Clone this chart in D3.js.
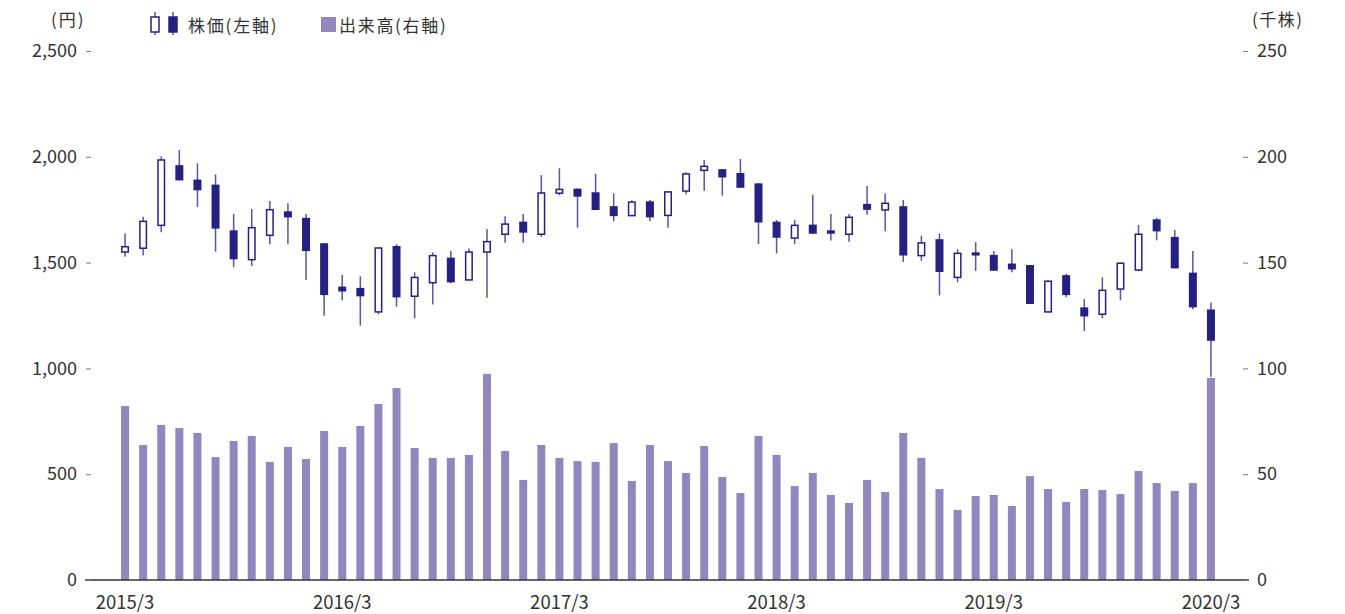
<!DOCTYPE html>
<html>
<head>
<meta charset="utf-8">
<script src="https://cdn.jsdelivr.net/npm/d3@7"></script>
<style>
  html, body { margin: 0; padding: 0; background: #fff; }
  svg { display: block; }
  text { font-family: "Noto Sans CJK JP", "Noto Sans", sans-serif; fill: #333; }
</style>
</head>
<body>
<svg id="chart" width="1345" height="614"></svg>
<script>
// Monthly periods
const months = [
  "2015/3","2015/4","2015/5","2015/6","2015/7","2015/8","2015/9","2015/10","2015/11","2015/12","2016/1","2016/2",
  "2016/3","2016/4","2016/5","2016/6","2016/7","2016/8","2016/9","2016/10","2016/11","2016/12","2017/1","2017/2",
  "2017/3","2017/4","2017/5","2017/6","2017/7","2017/8","2017/9","2017/10","2017/11","2017/12","2018/1","2018/2",
  "2018/3","2018/4","2018/5","2018/6","2018/7","2018/8","2018/9","2018/10","2018/11","2018/12","2019/1","2019/2",
  "2019/3","2019/4","2019/5","2019/6","2019/7","2019/8","2019/9","2019/10","2019/11","2019/12","2020/1","2020/2",
  "2020/3"
];

// Share price (yen)
const openPrice = [
  1550,1568,1676,1957,1889,1865,1649,1514,1629,1739,1708,1588,
  1383,1377,1267,1575,1341,1405,1520,1418,1550,1634,1690,1634,
  1828,1846,1829,1763,1722,1786,1723,1838,1936,1938,1920,1871,
  1690,1616,1676,1649,1634,1774,1749,1763,1533,1607,1430,1545,
  1533,1492,1485,1267,1437,1285,1256,1375,1465,1701,1618,1449,
  1275
];
const highPrice = [
  1638,1717,2001,2032,1969,1917,1730,1753,1791,1780,1730,1591,
  1441,1435,1571,1587,1454,1548,1555,1567,1659,1719,1730,1913,
  1946,1850,1919,1827,1795,1796,1837,1927,1985,1941,1990,1875,
  1701,1701,1821,1730,1728,1862,1827,1796,1627,1638,1563,1597,
  1555,1563,1487,1415,1446,1327,1430,1501,1678,1711,1654,1555,
  1312
];
const lowPrice = [
  1528,1534,1643,1889,1763,1552,1478,1484,1587,1587,1418,1249,
  1322,1202,1256,1292,1237,1302,1402,1418,1334,1594,1594,1622,
  1818,1665,1748,1695,1720,1695,1665,1823,1840,1816,1855,1588,
  1544,1588,1636,1605,1599,1726,1648,1503,1509,1345,1407,1460,
  1463,1454,1306,1265,1336,1177,1237,1322,1460,1605,1474,1279,
  961
];
const closePrice = [
  1575,1695,1985,1892,1845,1664,1519,1665,1750,1717,1558,1350,
  1367,1344,1569,1339,1430,1533,1410,1550,1599,1682,1645,1829,
  1846,1815,1752,1723,1786,1717,1834,1919,1955,1906,1857,1693,
  1621,1676,1640,1640,1714,1753,1780,1537,1593,1459,1544,1537,
  1465,1471,1308,1412,1350,1249,1369,1497,1634,1651,1476,1292,
  1134
];

// Trading volume (thousand shares)
const volume = [
  82.2,63.8,73.3,71.8,69.5,58.1,65.7,68.1,55.8,62.9,57.2,70.4,
  62.9,72.8,83.2,90.7,62.4,57.7,57.7,59.1,97.4,61.0,47.3,63.8,
  57.7,56.2,55.8,64.7,46.8,63.8,56.2,50.6,63.3,48.7,41.1,68.1,
  59.1,44.4,50.6,40.2,36.4,47.3,41.6,69.5,57.7,43.0,33.1,39.7,
  40.2,35.0,49.1,43.0,36.9,43.0,42.5,40.6,51.5,45.8,42.1,45.8,
  95.5
];

// Axis ticks
const xTickLabels = ["2015/3","2016/3","2017/3","2018/3","2019/3","2020/3"];
const priceTicks = [0, 500, 1000, 1500, 2000, 2500];
const volumeTicks = [0, 50, 100, 150, 200, 250];

const candles = months.map((m, i) => ({
  month: m, open: openPrice[i], high: highPrice[i], low: lowPrice[i], close: closePrice[i], volume: volume[i]
}));

const NAVY = "#272083";
const WICK = "#5954a6";
const VOL = "#9286bf";
const TICK = "#7a7a7a";

const svg = d3.select("#chart");

const x = d3.scaleBand()
  .domain(months)
  .range([116, 1220])
  .paddingInner(0.558)
  .paddingOuter(0.279);
const cx = m => x(m) + x.bandwidth() / 2;

const yPrice = d3.scaleLinear().domain([0, 2500]).range([580, 51]);
const yVol = d3.scaleLinear().domain([0, 250]).range([580, 51]);

// Volume bars (right axis)
svg.append("g")
  .selectAll("rect")
  .data(candles)
  .join("rect")
  .attr("x", d => x(d.month))
  .attr("width", x.bandwidth())
  .attr("y", d => yVol(d.volume))
  .attr("height", d => yVol(0) - yVol(d.volume))
  .attr("fill", VOL);

// Candlesticks (left axis)
const cg = svg.append("g")
  .selectAll("g")
  .data(candles)
  .join("g");

cg.append("line")
  .attr("x1", d => cx(d.month))
  .attr("x2", d => cx(d.month))
  .attr("y1", d => yPrice(d.high))
  .attr("y2", d => yPrice(d.low))
  .attr("stroke", WICK)
  .attr("stroke-width", 1.5);

cg.append("rect")
  .attr("x", d => x(d.month) + 0.75)
  .attr("width", x.bandwidth() - 1.5)
  .attr("y", d => yPrice(Math.max(d.open, d.close)))
  .attr("height", d => Math.max(1.5, yPrice(Math.min(d.open, d.close)) - yPrice(Math.max(d.open, d.close))))
  .attr("fill", d => d.close >= d.open ? "#fff" : NAVY)
  .attr("stroke", NAVY)
  .attr("stroke-width", 1.5);

// Baseline
svg.append("line")
  .attr("x1", 85).attr("x2", 1249)
  .attr("y1", yPrice(0)).attr("y2", yPrice(0))
  .attr("stroke", "#333")
  .attr("stroke-width", 1.5);

// Left axis
const leftAxis = svg.append("g")
  .attr("transform", "translate(91,0)")
  .call(d3.axisLeft(yPrice).tickValues(priceTicks).tickFormat(d3.format(",")).tickSize(5).tickPadding(9));
leftAxis.select(".domain").remove();
leftAxis.selectAll(".tick line").attr("stroke", TICK);
leftAxis.selectAll(".tick text").attr("font-size", 18).attr("fill", "#333");

// Right axis
const rightAxis = svg.append("g")
  .attr("transform", "translate(1243,0)")
  .call(d3.axisRight(yVol).tickValues(volumeTicks).tickSize(5).tickPadding(9));
rightAxis.select(".domain").remove();
rightAxis.selectAll(".tick line").attr("stroke", TICK);
rightAxis.selectAll(".tick text").attr("font-size", 18).attr("fill", "#333");

// Month labels
svg.append("g")
  .selectAll("text")
  .data(xTickLabels)
  .join("text")
  .attr("x", d => cx(d))
  .attr("y", 601)
  .attr("text-anchor", "middle")
  .attr("dominant-baseline", "central")
  .attr("font-size", 18.5)
  .text(d => d);

// Unit labels
svg.append("text")
  .attr("x", 51).attr("y", 18)
  .attr("dominant-baseline", "central")
  .attr("font-size", 17)
  .attr("letter-spacing", 2)
  .text("(円)");
svg.append("text")
  .attr("x", 1252).attr("y", 18)
  .attr("dominant-baseline", "central")
  .attr("font-size", 17)
  .attr("letter-spacing", 1.5)
  .text("(千株)");

// Legend
const lg = svg.append("g");
[{ x: 151, fill: "#fff" }, { x: 169, fill: NAVY }].forEach(k => {
  lg.append("line")
    .attr("x1", k.x + 4).attr("x2", k.x + 4)
    .attr("y1", 12).attr("y2", 35)
    .attr("stroke", WICK).attr("stroke-width", 1.5);
  lg.append("rect")
    .attr("x", k.x).attr("y", 17)
    .attr("width", 8).attr("height", 15)
    .attr("fill", k.fill).attr("stroke", NAVY).attr("stroke-width", 1.5);
});
lg.append("text")
  .attr("x", 188).attr("y", 24)
  .attr("dominant-baseline", "central")
  .attr("font-size", 17)
  .attr("letter-spacing", 1.8)
  .text("株価(左軸)");
lg.append("rect")
  .attr("x", 321).attr("y", 17)
  .attr("width", 15).attr("height", 15)
  .attr("fill", VOL);
lg.append("text")
  .attr("x", 339).attr("y", 24)
  .attr("dominant-baseline", "central")
  .attr("font-size", 17)
  .attr("letter-spacing", 1.7)
  .text("出来高(右軸)");
</script>
</body>
</html>
